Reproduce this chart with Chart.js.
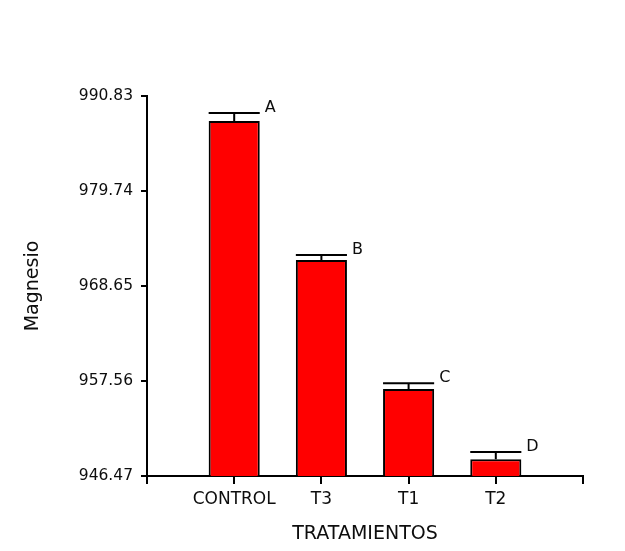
<!DOCTYPE html>
<html>
<head>
<meta charset="utf-8">
<script src="https://cdn.jsdelivr.net/npm/chart.js@4/dist/chart.umd.min.js"></script>
<style>
  html, body { margin: 0; padding: 0; background: #fff; }
  #wrap { width: 625px; height: 551px; }
</style>
</head>
<body>
<div id="wrap"><canvas id="c" width="625" height="551"></canvas></div>
<script>
const categories = ['CONTROL', 'T3', 'T1', 'T2'];
const means = [987.91, 971.68, 956.63, 948.42];
const errors = [0.94, 0.58, 0.66, 0.85];
const groupLetters = ['A', 'B', 'C', 'D'];
const yTicks = [946.47, 957.56, 968.65, 979.74, 990.83];
const xTickPositions = [0, 1, 2, 3, 4, 5];

const FONT = 'DejaVu Sans';
const TEXT = '#0d0d0d';

const errorBarPlugin = {
  id: 'errorBars',
  afterDatasetsDraw(chart) {
    const ctx = chart.ctx;
    const meta = chart.getDatasetMeta(0);
    const yScale = chart.scales.y;
    ctx.save();
    ctx.strokeStyle = '#000';
    ctx.lineWidth = 2;
    ctx.fillStyle = TEXT;
    ctx.font = '16px "' + FONT + '"';
    ctx.textAlign = 'left';
    ctx.textBaseline = 'alphabetic';
    meta.data.forEach((bar, i) => {
      const half = bar.width / 2;
      const yTop = yScale.getPixelForValue(means[i] + errors[i]);
      ctx.beginPath();
      ctx.moveTo(bar.x, bar.y);
      ctx.lineTo(bar.x, yTop);
      ctx.moveTo(bar.x - half, yTop);
      ctx.lineTo(bar.x + half, yTop);
      ctx.stroke();
      ctx.fillText(groupLetters[i], bar.x + half + 5, yTop - 1);
    });
    ctx.restore();
  }
};

new Chart(document.getElementById('c'), {
  type: 'bar',
  data: {
    datasets: [{
      data: means.map((v, i) => ({ x: i + 1, y: v })),
      backgroundColor: '#ff0000',
      borderColor: '#000',
      borderWidth: 2,
      borderSkipped: false,
      barPercentage: 0.586,
      categoryPercentage: 1.0
    }]
  },
  options: {
    responsive: false,
    animation: false,
    layout: { padding: { left: 0, right: 42, top: 96, bottom: 0 } },
    plugins: { legend: { display: false }, tooltip: { enabled: false } },
    scales: {
      x: {
        type: 'linear',
        offset: false,
        min: 0,
        max: 5,
        afterBuildTicks: (s) => { s.ticks = xTickPositions.map(v => ({ value: v })); },
        afterFit: (s) => { s.height = 75; },
        ticks: {
          autoSkip: false,
          maxRotation: 0,
          padding: 5,
          color: TEXT,
          font: { family: FONT, size: 17 },
          callback: (v) => categories[v - 1] !== undefined ? categories[v - 1] : ''
        },
        grid: { display: true, offset: false, drawOnChartArea: false, drawTicks: true, tickLength: 8, color: '#000', lineWidth: 2 },
        border: { display: true, color: '#000', width: 2 },
        title: { display: true, text: 'TRATAMIENTOS', color: TEXT, font: { family: FONT, size: 19 }, padding: { top: 0, bottom: 6 } }
      },
      y: {
        min: yTicks[0],
        max: yTicks[yTicks.length - 1],
        afterBuildTicks: (s) => { s.ticks = yTicks.map(v => ({ value: v })); },
        afterFit: (s) => { s.width = 147; },
        ticks: {
          padding: 8,
          color: TEXT,
          font: { family: FONT, size: 15.5 },
          callback: (v) => Number(v).toFixed(2)
        },
        grid: { display: true, drawOnChartArea: false, drawTicks: true, tickLength: 6, color: '#000', lineWidth: 2 },
        border: { display: true, color: '#000', width: 2 },
        title: { display: true, text: 'Magnesio', color: TEXT, font: { family: FONT, size: 19 }, padding: { top: 22, bottom: 0 } }
      }
    }
  },
  plugins: [errorBarPlugin]
});
</script>
</body>
</html>
